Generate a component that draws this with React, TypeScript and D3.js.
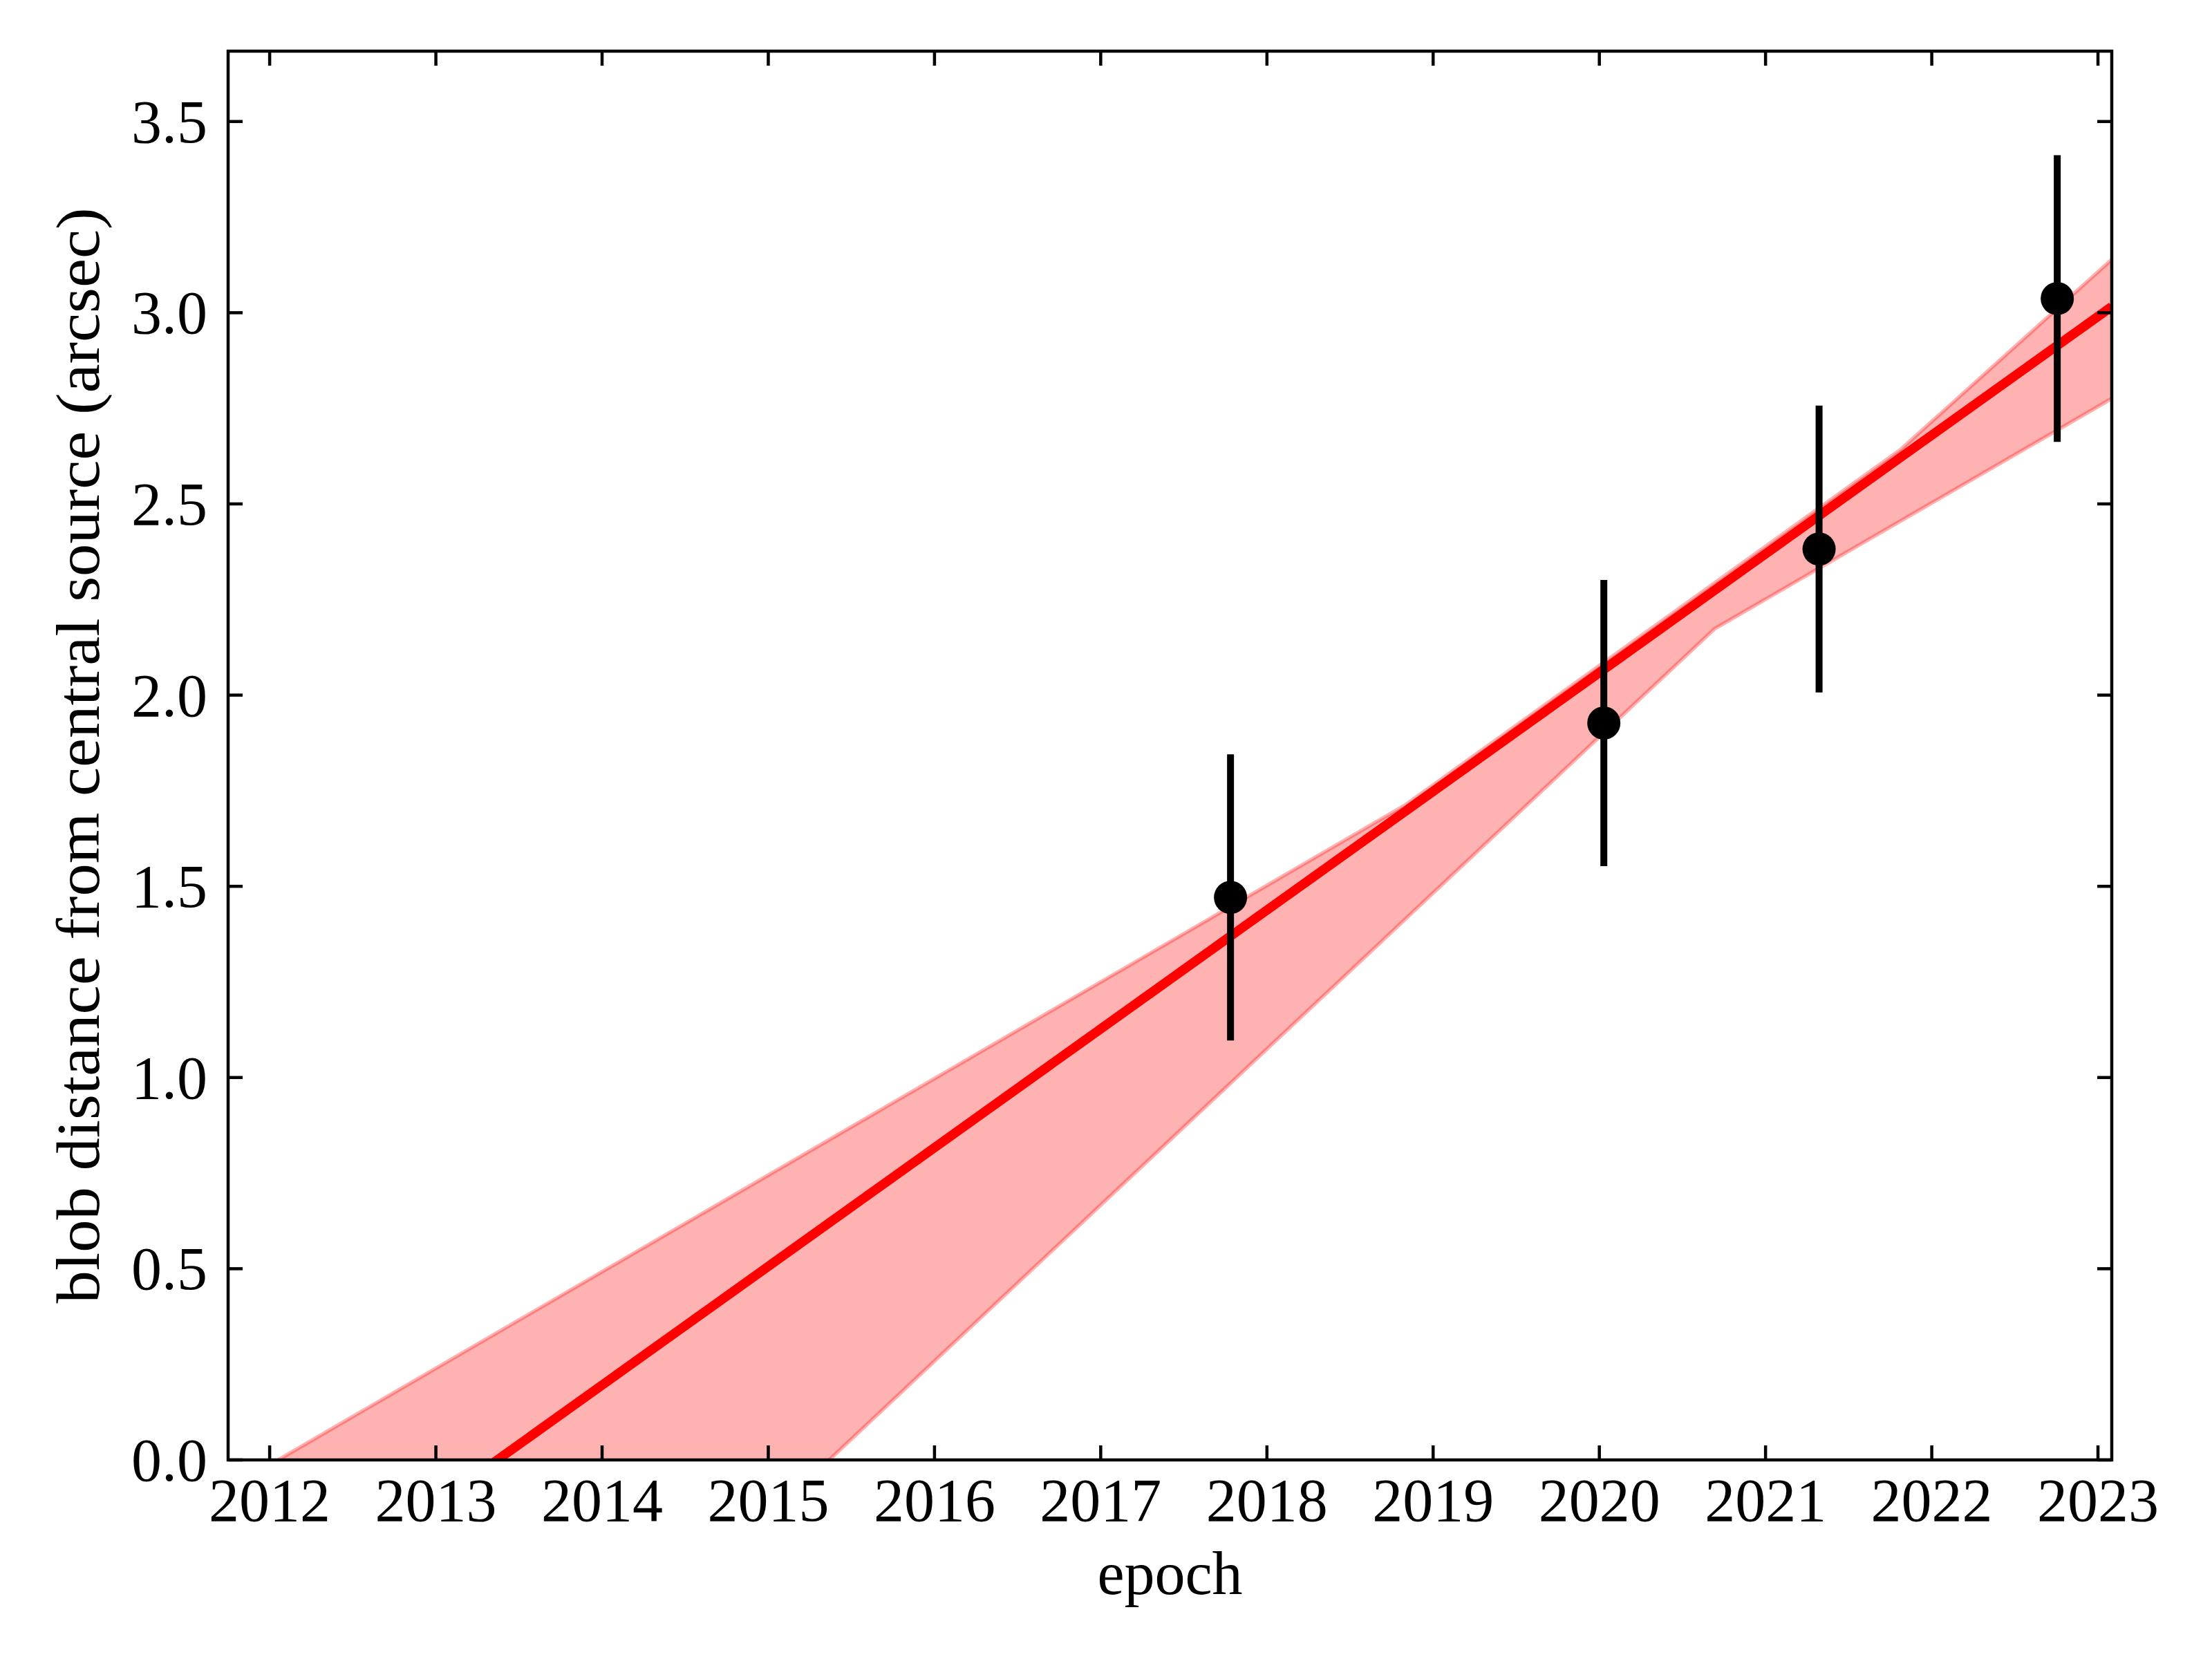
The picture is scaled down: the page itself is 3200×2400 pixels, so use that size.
import React from "react";
import * as d3 from "d3";

// ---------- data ----------
const xTicks = [2012, 2013, 2014, 2015, 2016, 2017, 2018, 2019, 2020, 2021, 2022, 2023];
const yTicks = [0, 0.5, 1.0, 1.5, 2.0, 2.5, 3.0, 3.5];
const yTickLabels = ["0.0", "0.5", "1.0", "1.5", "2.0", "2.5", "3.0", "3.5"];

const epochs = [2017.781, 2020.027, 2021.322, 2022.755];
const distances = [1.471, 1.927, 2.382, 3.037];
const distanceErrors = [0.374, 0.374, 0.375, 0.375];

const fitEpochs = [2011.75, 2023.083];
const fitDistances = [-0.503, 3.016];

const bandUpperEpochs = [2011.6, 2018.83, 2021.815, 2023.2];
const bandUpperValues = [-0.114, 1.712, 2.643, 3.185];
const bandLowerEpochs = [2011.6, 2020.692, 2023.2];
const bandLowerValues = [-1.537, 2.173, 2.805];

const xLabel = "epoch";
const yLabel = "blob distance from central source (arcsec)";

// ---------- layout ----------
const W = 3200;
const H = 2400;
const plot = { left: 330, right: 3055, top: 74, bottom: 2112 };
const xDomain: [number, number] = [2011.75, 2023.083];
const yDomain: [number, number] = [0, 3.684];
const FONT = "'Liberation Serif', 'Times New Roman', serif";
const FS = 88;

export default function App() {
  const x = d3.scaleLinear().domain(xDomain).range([plot.left, plot.right]);
  const y = d3.scaleLinear().domain(yDomain).range([plot.bottom, plot.top]);

  const line = d3
    .line<[number, number]>()
    .x((d) => x(d[0]))
    .y((d) => y(d[1]));

  const upper: [number, number][] = bandUpperEpochs.map((t, i) => [t, bandUpperValues[i]]);
  const lower: [number, number][] = bandLowerEpochs.map((t, i) => [t, bandLowerValues[i]]);
  const bandPts = [...upper, ...lower.slice().reverse()];
  const bandPath = line(bandPts) + "Z";

  const fitPts: [number, number][] = fitEpochs.map((t, i) => [t, fitDistances[i]]);

  const tickLen = 21;
  const tickW = 4.5;
  const spineW = 4.5;

  return (
    <div style={{ position: "absolute", left: 0, top: 0 }}>
      <svg width={W} height={H} style={{ display: "block", background: "#fff" }}>
        <defs>
          <clipPath id="plotclip">
            <rect x={plot.left} y={plot.top} width={plot.right - plot.left} height={plot.bottom - plot.top} />
          </clipPath>
        </defs>
        <rect x={0} y={0} width={W} height={H} fill="#fff" />

        <g clipPath="url(#plotclip)">
          <path d={bandPath} fill="red" fillOpacity={0.3} stroke="red" strokeOpacity={0.3} strokeWidth={5.5} strokeLinejoin="round" />
          <path d={line(fitPts) || ""} fill="none" stroke="#ff0000" strokeWidth={13.5} />
          {epochs.map((t, i) => (
            <line
              key={"eb" + i}
              x1={x(t)}
              x2={x(t)}
              y1={y(distances[i] - distanceErrors[i])}
              y2={y(distances[i] + distanceErrors[i])}
              stroke="#000"
              strokeWidth={10}
            />
          ))}
          {epochs.map((t, i) => (
            <circle key={"pt" + i} cx={x(t)} cy={y(distances[i])} r={24} fill="#000" />
          ))}
        </g>

        {/* ticks */}
        {xTicks.map((t) => (
          <g key={"xt" + t}>
            <line x1={x(t)} x2={x(t)} y1={plot.bottom} y2={plot.bottom - tickLen} stroke="#000" strokeWidth={tickW} />
            <line x1={x(t)} x2={x(t)} y1={plot.top} y2={plot.top + tickLen} stroke="#000" strokeWidth={tickW} />
            <text x={x(t)} y={2200} textAnchor="middle" fontFamily={FONT} fontSize={FS} fill="#000">
              {t}
            </text>
          </g>
        ))}
        {yTicks.map((v, i) => (
          <g key={"yt" + v}>
            <line x1={plot.left} x2={plot.left + tickLen} y1={y(v)} y2={y(v)} stroke="#000" strokeWidth={tickW} />
            <line x1={plot.right} x2={plot.right - tickLen} y1={y(v)} y2={y(v)} stroke="#000" strokeWidth={tickW} />
            <text x={300} y={y(v) + 30} textAnchor="end" fontFamily={FONT} fontSize={FS} fill="#000">
              {yTickLabels[i]}
            </text>
          </g>
        ))}

        {/* spines */}
        <rect
          x={plot.left}
          y={plot.top}
          width={plot.right - plot.left}
          height={plot.bottom - plot.top}
          fill="none"
          stroke="#000"
          strokeWidth={spineW}
        />

        {/* axis labels */}
        <text x={(plot.left + plot.right) / 2} y={2306} textAnchor="middle" fontFamily={FONT} fontSize={FS} fill="#000">
          {xLabel}
        </text>
        <text
          transform={`translate(143, ${(plot.top + plot.bottom) / 2}) rotate(-90)`}
          textAnchor="middle"
          fontFamily={FONT}
          fontSize={FS}
          fill="#000"
          textLength={1585}
          lengthAdjust="spacingAndGlyphs"
        >
          {yLabel}
        </text>
      </svg>
    </div>
  );
}
